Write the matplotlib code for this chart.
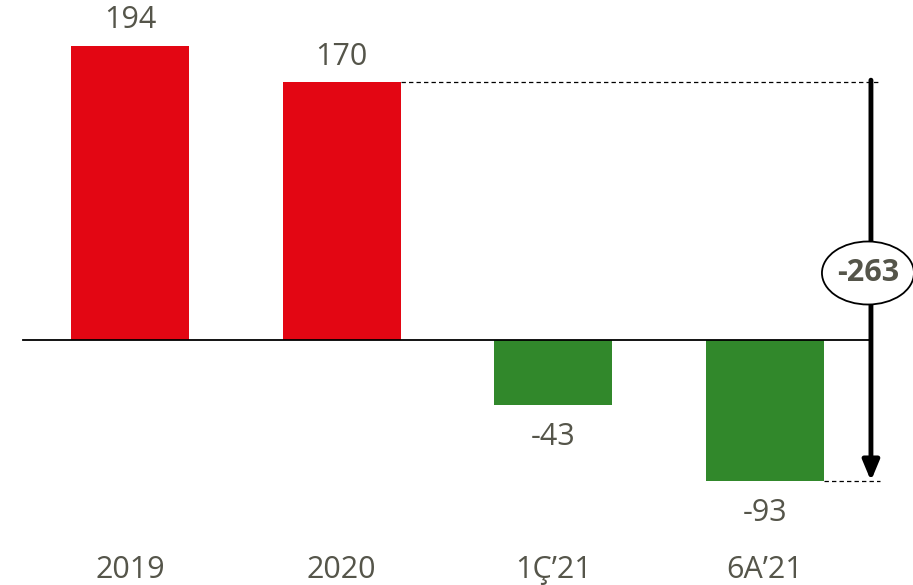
import numpy as np
import matplotlib.pyplot as plt
from matplotlib.patches import Ellipse

categories = ["2019", "2020", "1Ç\u201921", "6A\u201921"]
values = [194, 170, -43, -93]

RED = "#E30613"
GREEN = "#31882B"
TEXT = "#55554A"

plt.rcParams['font.family'] = ['Open Sans', 'DejaVu Sans']

fig = plt.figure(figsize=(9.13, 5.85), dpi=100)
ax = fig.add_axes([0, 0, 1, 1])

# pixel layout of the reference: bar centres 130 + 211.7*i, baseline at 340 px, 1.515 px per unit
px_step = 211.7
ax.set_xlim(-130 / px_step, (913 - 130) / px_step)
ax.set_ylim(-(585 - 340) / 1.515, 340 / 1.515)
ax.axis("off")

x = np.arange(len(values))
colors = [RED if v > 0 else GREEN for v in values]
ax.bar(x, values, width=118 / px_step, color=colors, zorder=2)

for xi, v in zip(x, values):
    if v > 0:
        ax.annotate(str(v), (xi, v), xytext=(0, 18.5), textcoords="offset points",
                    ha="center", va="center", fontsize=22, color=TEXT)
    else:
        ax.annotate(str(v), (xi, v), xytext=(0, -23), textcoords="offset points",
                    ha="center", va="center", fontsize=22, color=TEXT)
    ax.annotate(categories[xi], (xi, 0), xycoords=("data", "axes fraction"),
                xytext=(0, 11), textcoords="offset points",
                ha="center", va="center", fontsize=22, color=TEXT)

# baseline
arrow_x = 3.5
ax.plot([-0.505, arrow_x], [0, 0], color="black", lw=1.3, zorder=3)

# dashed guides
top = values[1]
bottom = values[-1]
dash_end = (880 - 130) / px_step
ax.plot([1 + 59 / px_step, dash_end], [top, top], color="black", lw=0.9,
        ls=(0, (3.5, 2.5)), zorder=1)
ax.plot([3 + 59 / px_step, dash_end], [bottom, bottom], color="black", lw=0.9,
        ls=(0, (3.5, 2.5)), zorder=1)

# arrow
ax.annotate("", xy=(arrow_x, bottom), xytext=(arrow_x, top + 1.5),
            arrowprops=dict(arrowstyle="-|>,head_length=1.2,head_width=0.5",
                            lw=3.5, color="black", shrinkA=0, shrinkB=0),
            zorder=4)

diff = bottom - top
mid_y = (340 - 273) / 1.515
ell = Ellipse((arrow_x - 3 / px_step, mid_y), width=92 / px_step, height=63 / 1.515,
              facecolor="white", edgecolor="black", lw=1.3, zorder=5)
ax.add_patch(ell)
ax.text(arrow_x - 3 / px_step, mid_y, str(diff), ha="center", va="center",
        fontsize=22, fontweight="bold", color=TEXT, zorder=6)

fig.savefig("out.png", dpi=100)
